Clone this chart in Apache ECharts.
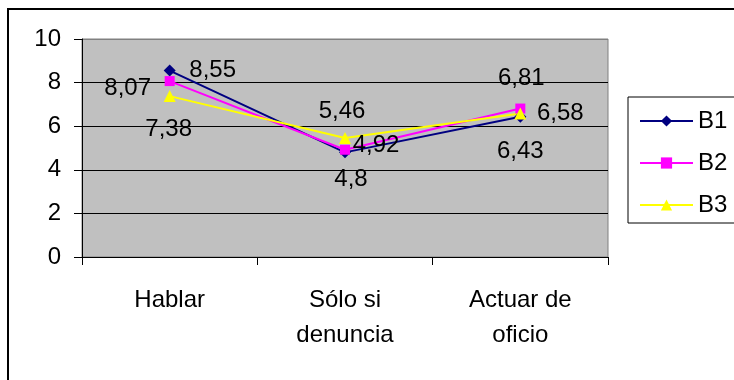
<!DOCTYPE html>
<html>
<head>
<meta charset="utf-8">
<script src="https://cdn.jsdelivr.net/npm/echarts@6/dist/echarts.min.js"></script>
<style>
html,body{margin:0;padding:0;background:#fff;}
#c{width:734px;height:380px;}
</style>
</head>
<body>
<div id="c"></div>
<script>
// ---- data ----
const categories = ['Hablar', 'Sólo si\ndenuncia', 'Actuar de\noficio'];
const seriesNames = ['B1', 'B2', 'B3'];
const valuesB1 = [8.55, 4.8, 6.43];
const valuesB2 = [8.07, 4.92, 6.81];
const valuesB3 = [7.38, 5.46, 6.58];
const yTicks = [0, 2, 4, 6, 8, 10];

// ---- layout / style (not data) ----
const FONT = "'Liberation Sans', Arial, sans-serif";
const labelOffsets = [
  [[43, 0], [6, 27], [0, 35]],
  [[-42, 7], [31, -4], [1, -30]],
  [[-1, 33], [-3, -27], [40, 0]]
];
const colors = ['#000080', '#FF00FF', '#FFFF00'];
const symbols = ['diamond', 'rect', 'triangle'];
const symbolSizes = [12, 10, 12];
const allValues = [valuesB1, valuesB2, valuesB3];

const fmt = v => String(v).replace('.', ',');

const series = allValues.map((vals, si) => ({
  name: seriesNames[si],
  type: 'line',
  data: vals.map((v, i) => ({
    value: v,
    label: {
      show: true,
      position: 'inside',
      offset: labelOffsets[si][i],
      formatter: p => fmt(p.value),
      color: '#000',
      fontSize: 24,
      fontFamily: FONT
    }
  })),
  symbol: symbols[si],
  symbolSize: symbolSizes[si],
  showAllSymbol: true,
  lineStyle: { color: colors[si], width: 2 },
  itemStyle: { color: colors[si], borderWidth: 0 },
  emphasis: { disabled: true },
  animation: false
}));

const chart = echarts.init(document.getElementById('c'), null, { renderer: 'canvas' });
chart.setOption({
  animation: false,
  backgroundColor: '#fff',
  graphic: [{
    type: 'rect',
    shape: { x: 8, y: 9, width: 1000, height: 1000 },
    style: { fill: 'none', stroke: '#000', lineWidth: 2 },
    z: 100, silent: true
  }],
  grid: {
    left: 82, top: 39, width: 526, height: 218,
    show: true, backgroundColor: '#C0C0C0', borderColor: '#808080', borderWidth: 1
  },
  legend: {
    orient: 'vertical',
    left: 628, top: 97,
    padding: [12, 60, 6, 11],
    itemWidth: 53, itemHeight: 14, itemGap: 18,
    borderColor: '#000', borderWidth: 1,
    textStyle: { fontSize: 24, fontFamily: FONT, color: '#000' },
    data: seriesNames
  },
  xAxis: {
    type: 'category',
    data: categories,
    boundaryGap: true,
    axisLine: { lineStyle: { color: '#000', width: 1 } },
    axisTick: { show: true, length: 8, lineStyle: { color: '#000' } },
    axisLabel: {
      fontSize: 24, fontFamily: FONT, color: '#000', margin: 26,
      lineHeight: 35, interval: 0
    },
    splitLine: { show: false }
  },
  yAxis: {
    type: 'value',
    min: yTicks[0], max: yTicks[yTicks.length - 1], interval: 2,
    axisLine: { show: true, lineStyle: { color: '#000', width: 1 } },
    axisTick: { show: true, length: 8, lineStyle: { color: '#000' } },
    axisLabel: { fontSize: 24, fontFamily: FONT, color: '#000', margin: 21 },
    splitLine: { show: true, lineStyle: { color: ['#000', '#000', '#000', '#000', '#000', '#808080'], width: 1 } }
  },
  series: series
});
</script>
</body>
</html>
